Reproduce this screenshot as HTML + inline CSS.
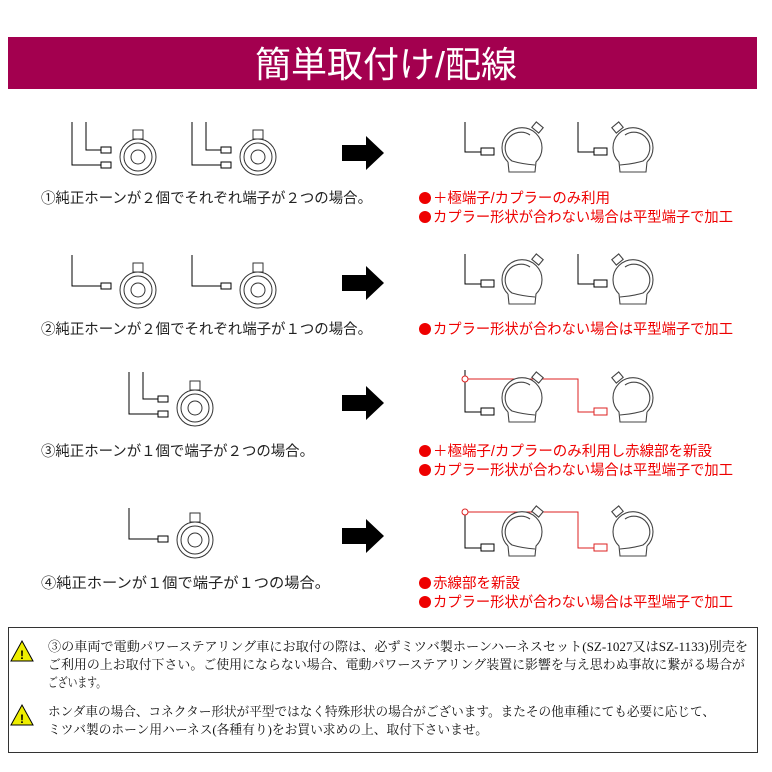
<!DOCTYPE html>
<html><head><meta charset="utf-8"><style>
html,body{margin:0;padding:0;background:#fff;width:772px;height:772px;overflow:hidden}
svg{display:block}
.g{font-family:"Liberation Sans","Noto Sans CJK JP",sans-serif}
.s{font-family:"Liberation Serif","Noto Serif CJK SC",serif}
.b{font-family:"Noto Sans CJK JP",sans-serif}
</style></head><body>
<svg width="772" height="772" viewBox="0 0 772 772" xmlns="http://www.w3.org/2000/svg">
<defs>
<g id="rh" fill="none" stroke="#333" stroke-width="1">
  <circle cx="0" cy="0" r="18"/><circle cx="0" cy="0" r="14"/><circle cx="0" cy="0" r="7"/>
  <rect x="-5" y="-27" width="10" height="9" fill="#fff"/>
</g>
<g id="sh" fill="none" stroke="#444" stroke-width="1.1">
  <rect x="11" y="-24" width="9" height="7" transform="rotate(40 15.5 -20.5)" fill="#fff"/>
  <path d="M-14 14 A20 20 0 1 1 14 14 L13 24 L-13 24 L-14 14" fill="#fff"/>
  <path d="M8 -13 A14 14 0 0 0 -10 13 Q0 16 13 17"/>
</g>
<polygon id="ar" points="0,-8 24,-8 24,-17 42,0 24,17 24,8 0,8" fill="#000"/>
</defs>
<rect x="8" y="37" width="749" height="52" fill="#a3004f"/>
<text x="386" y="77" text-anchor="middle" fill="#fff" font-size="36" class="g">簡単取付け/配線</text>

<g stroke="#000" fill="none" stroke-width="1">
<path d="M72 122V165H101M86 122V150H101"/><rect x="101" y="147" width="10" height="6" fill="#fff"/><rect x="101" y="162" width="10" height="6" fill="#fff"/>
<path d="M192 122V165H221M206 122V150H221"/><rect x="221" y="147" width="10" height="6" fill="#fff"/><rect x="221" y="162" width="10" height="6" fill="#fff"/>
<path d="M72 255V286H101"/><rect x="101" y="283" width="10" height="6" fill="#fff"/>
<path d="M192 255V286H221"/><rect x="221" y="283" width="10" height="6" fill="#fff"/>
<path d="M129 372V414H158M143 372V399H158"/><rect x="158" y="396" width="10" height="6" fill="#fff"/><rect x="158" y="411" width="10" height="6" fill="#fff"/>
<path d="M129 508V539H158"/><rect x="158" y="536" width="10" height="6" fill="#fff"/>
<path d="M465 122V152H481"/><rect x="481" y="148" width="13" height="7" fill="#fff"/>
<path d="M578 122V152H594"/><rect x="594" y="148" width="13" height="7" fill="#fff"/>
<path d="M465 254V284H481"/><rect x="481" y="280" width="13" height="7" fill="#fff"/>
<path d="M578 254V284H594"/><rect x="594" y="280" width="13" height="7" fill="#fff"/>
<path d="M465 370V412H481"/><rect x="481" y="408" width="13" height="7" fill="#fff"/>
<path d="M465 512V548H481"/><rect x="481" y="544" width="13" height="7" fill="#fff"/>
</g>
<g stroke="#d22" fill="none" stroke-width="1">
<path d="M467 379H578V412H594"/><rect x="594" y="408" width="13" height="7" fill="#fff"/><circle cx="465" cy="379" r="3" fill="#fff"/>
<path d="M467 512H578V548H594"/><rect x="594" y="544" width="13" height="7" fill="#fff"/><circle cx="465" cy="512" r="3" fill="#fff"/>
</g>

<use href="#rh" x="138" y="157"/><use href="#rh" x="258" y="157"/>
<use href="#rh" x="138" y="290"/><use href="#rh" x="258" y="290"/>
<use href="#rh" x="195" y="408"/><use href="#rh" x="195" y="540"/>

<use href="#sh" x="522" y="148"/><use href="#sh" transform="translate(633 148) scale(-1 1)"/>
<use href="#sh" x="522" y="280"/><use href="#sh" transform="translate(633 280) scale(-1 1)"/>
<use href="#sh" x="522" y="398"/><use href="#sh" transform="translate(633 398) scale(-1 1)"/>
<use href="#sh" x="522" y="532"/><use href="#sh" transform="translate(633 532) scale(-1 1)"/>

<use href="#ar" x="342" y="153"/><use href="#ar" x="342" y="283"/>
<use href="#ar" x="342" y="403"/><use href="#ar" x="342" y="536"/>

<g class="g" font-size="14.5" fill="#222">
<text x="41" y="203" textLength="331" lengthAdjust="spacingAndGlyphs">①純正ホーンが２個でそれぞれ端子が２つの場合。</text>
<text x="41" y="334" textLength="331" lengthAdjust="spacingAndGlyphs">②純正ホーンが２個でそれぞれ端子が１つの場合。</text>
<text x="41" y="456" textLength="273" lengthAdjust="spacingAndGlyphs">③純正ホーンが１個で端子が２つの場合。</text>
<text x="41" y="588" textLength="289" lengthAdjust="spacingAndGlyphs">④純正ホーンが１個で端子が１つの場合。</text>
</g>
<g fill="#e00">
<circle cx="425" cy="198" r="6"/><circle cx="425" cy="217" r="6"/><circle cx="425" cy="329" r="6"/>
<circle cx="425" cy="451" r="6"/><circle cx="425" cy="470" r="6"/><circle cx="425" cy="583" r="6"/><circle cx="425" cy="602" r="6"/>
</g>
<g class="g" font-size="14.5" fill="#e00">
<text x="433" y="203" textLength="177" lengthAdjust="spacingAndGlyphs">＋極端子/カプラーのみ利用</text>
<text x="433" y="222" textLength="300" lengthAdjust="spacingAndGlyphs">カプラー形状が合わない場合は平型端子で加工</text>
<text x="433" y="334" textLength="300" lengthAdjust="spacingAndGlyphs">カプラー形状が合わない場合は平型端子で加工</text>
<text x="433" y="456" textLength="279" lengthAdjust="spacingAndGlyphs">＋極端子/カプラーのみ利用し赤線部を新設</text>
<text x="433" y="475" textLength="300" lengthAdjust="spacingAndGlyphs">カプラー形状が合わない場合は平型端子で加工</text>
<text x="433" y="588" textLength="87" lengthAdjust="spacingAndGlyphs">赤線部を新設</text>
<text x="433" y="607" textLength="300" lengthAdjust="spacingAndGlyphs">カプラー形状が合わない場合は平型端子で加工</text>
</g>

<rect x="8.5" y="627.5" width="749" height="125" fill="none" stroke="#333"/>
<g stroke="#000" stroke-width="1">
<polygon points="22,641 33,661 11,661" fill="#ee0"/>
<polygon points="22,705 33,725 11,725" fill="#ee0"/>
</g>
<g font-family="Liberation Sans" font-size="12" font-weight="bold" text-anchor="middle"><text x="22" y="659">!</text><text x="22" y="723">!</text></g>
<g class="s" font-size="13" fill="#111">
<text x="48" y="651" textLength="700" lengthAdjust="spacingAndGlyphs">③の車両で電動パワーステアリング車にお取付の際は、必ずミツバ製ホーンハーネスセット(SZ-1027又はSZ-1133)別売を</text>
<text x="48" y="669" textLength="697" lengthAdjust="spacingAndGlyphs">ご利用の上お取付下さい。ご使用にならない場合、電動パワーステアリング装置に影響を与え思わぬ事故に繋がる場合が</text>
<text x="48" y="687" textLength="58" lengthAdjust="spacingAndGlyphs">ございます。</text>
<text x="48" y="716" textLength="667" lengthAdjust="spacingAndGlyphs">ホンダ車の場合、コネクター形状が平型ではなく特殊形状の場合がございます。またその他車種にても必要に応じて、</text>
<text x="48" y="734" textLength="440" lengthAdjust="spacingAndGlyphs">ミツバ製のホーン用ハーネス(各種有り)をお買い求めの上、取付下さいませ。</text>
</g>
</svg>
</body></html>
